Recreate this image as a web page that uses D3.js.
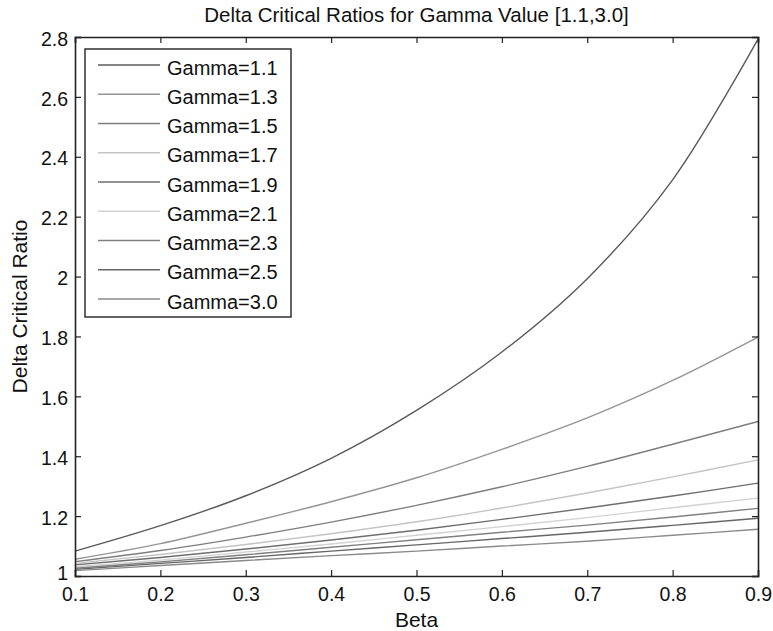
<!DOCTYPE html>
<html>
<head>
<meta charset="utf-8">
<script src="https://cdn.jsdelivr.net/npm/d3@7"></script>
<style>
  html, body { margin: 0; padding: 0; background: #fff; }
  svg { display: block; font-family: "Liberation Sans", Arial, sans-serif; }
</style>
</head>
<body>
<svg id="chart" width="773" height="631"></svg>
<script>
// Beta values sampled along the x axis
const beta = [0.1, 0.2, 0.3, 0.4, 0.5, 0.6, 0.7, 0.8, 0.9];

// Delta critical ratio for each gamma value
const gamma11 = [1.083, 1.168, 1.268, 1.393, 1.553, 1.748, 1.993, 2.323, 2.793];
const gamma13 = [1.056, 1.108, 1.176, 1.248, 1.328, 1.423, 1.528, 1.653, 1.798];
const gamma15 = [1.048, 1.085, 1.130, 1.180, 1.236, 1.298, 1.366, 1.440, 1.516];
const gamma17 = [1.042, 1.072, 1.105, 1.141, 1.181, 1.227, 1.277, 1.331, 1.388];
const gamma19 = [1.037, 1.062, 1.090, 1.120, 1.153, 1.189, 1.227, 1.267, 1.310];
const gamma21 = [1.031, 1.053, 1.080, 1.107, 1.136, 1.165, 1.195, 1.228, 1.260];
const gamma23 = [1.026, 1.047, 1.071, 1.096, 1.121, 1.146, 1.170, 1.197, 1.226];
const gamma25 = [1.022, 1.042, 1.062, 1.083, 1.104, 1.125, 1.146, 1.169, 1.193];
const gamma30 = [1.018, 1.035, 1.052, 1.068, 1.083, 1.100, 1.116, 1.136, 1.156];

const seriesNames = ["Gamma=1.1", "Gamma=1.3", "Gamma=1.5", "Gamma=1.7", "Gamma=1.9",
                     "Gamma=2.1", "Gamma=2.3", "Gamma=2.5", "Gamma=3.0"];
const seriesValues = [gamma11, gamma13, gamma15, gamma17, gamma19, gamma21, gamma23, gamma25, gamma30];
const seriesColors = ["#5a5a5a", "#959595", "#7e7e7e", "#c4c4c4", "#6e6e6e",
                      "#d2d2d2", "#808080", "#666666", "#8a8a8a"];

const xTicks = [0.1, 0.2, 0.3, 0.4, 0.5, 0.6, 0.7, 0.8, 0.9];
const yTicks = [1, 1.2, 1.4, 1.6, 1.8, 2, 2.2, 2.4, 2.6, 2.8];

const svg = d3.select("#chart");
const plotLeft = 75, plotRight = 758, plotTop = 37, plotBottom = 576;

const x = d3.scaleLinear().domain([0.1, 0.9]).range([plotLeft, plotRight]);
const y = d3.scaleLinear().domain([1, 2.8]).range([plotBottom, plotTop]);

// Curves
const line = d3.line()
  .x(d => x(d[0]))
  .y(d => y(d[1]))
  .curve(d3.curveCatmullRom.alpha(0.5));

svg.append("g")
  .selectAll("path")
  .data(seriesValues)
  .join("path")
  .attr("fill", "none")
  .attr("stroke", (d, i) => seriesColors[i])
  .attr("stroke-width", 1.4)
  .attr("d", vals => line(beta.map((b, j) => [b, vals[j]])));

// Axes with inward ticks on all four sides
const fmtY = d => d3.format("~g")(d);
const axisColor = "#222";

const xBottom = svg.append("g").attr("transform", `translate(0,${plotBottom})`)
  .call(d3.axisBottom(x).tickValues(xTicks).tickSize(-6).tickPadding(11).tickFormat(d3.format(".1f")));
const xTop = svg.append("g").attr("transform", `translate(0,${plotTop})`)
  .call(d3.axisTop(x).tickValues(xTicks).tickSize(-6).tickFormat(""));
const yLeft = svg.append("g").attr("transform", `translate(${plotLeft},0)`)
  .call(d3.axisLeft(y).tickValues(yTicks).tickSize(-6).tickPadding(7).tickFormat(fmtY));
const yRight = svg.append("g").attr("transform", `translate(${plotRight},0)`)
  .call(d3.axisRight(y).tickValues(yTicks).tickSize(-6).tickFormat(""));

[xBottom, xTop, yLeft, yRight].forEach(g => {
  g.select(".domain").attr("stroke", axisColor).attr("stroke-width", 1.6);
  g.selectAll(".tick line").attr("stroke", axisColor).attr("stroke-width", 1.2);
  g.selectAll(".tick text").attr("fill", "#111").attr("font-size", 19.5)
    .attr("font-family", "Liberation Sans, Arial, sans-serif");
});
// Lift the lowest y label a little so it clears the first x label
yLeft.selectAll(".tick text").attr("dy", d => d === 1 ? "0.2em" : "0.42em");

// Title and axis labels
svg.append("text")
  .attr("x", (plotLeft + plotRight) / 2).attr("y", 22)
  .attr("text-anchor", "middle").attr("font-size", 20.5).attr("fill", "#111")
  .text("Delta Critical Ratios for Gamma Value [1.1,3.0]");

svg.append("text")
  .attr("x", (plotLeft + plotRight) / 2).attr("y", 627)
  .attr("text-anchor", "middle").attr("font-size", 21).attr("fill", "#111")
  .text("Beta");

svg.append("text")
  .attr("transform", `translate(27,${(plotTop + plotBottom) / 2}) rotate(-90)`)
  .attr("text-anchor", "middle").attr("font-size", 21).attr("fill", "#111")
  .text("Delta Critical Ratio");

// Legend
const legend = svg.append("g");
legend.append("rect")
  .attr("x", 85).attr("y", 49).attr("width", 206).attr("height", 268)
  .attr("fill", "#fff").attr("stroke", "#222").attr("stroke-width", 1.4);

const rowY = i => 65 + i * 29.25;
const rows = legend.selectAll("g.row")
  .data(seriesNames)
  .join("g")
  .attr("class", "row")
  .attr("transform", (d, i) => `translate(0,${rowY(i)})`);

rows.append("line")
  .attr("x1", 98).attr("x2", 160).attr("y1", 0).attr("y2", 0)
  .attr("stroke", (d, i) => seriesColors[i]).attr("stroke-width", 1.4);

rows.append("text")
  .attr("x", 167).attr("y", 9.5)
  .attr("font-size", 20).attr("fill", "#111")
  .text(d => d);
</script>
</body>
</html>
